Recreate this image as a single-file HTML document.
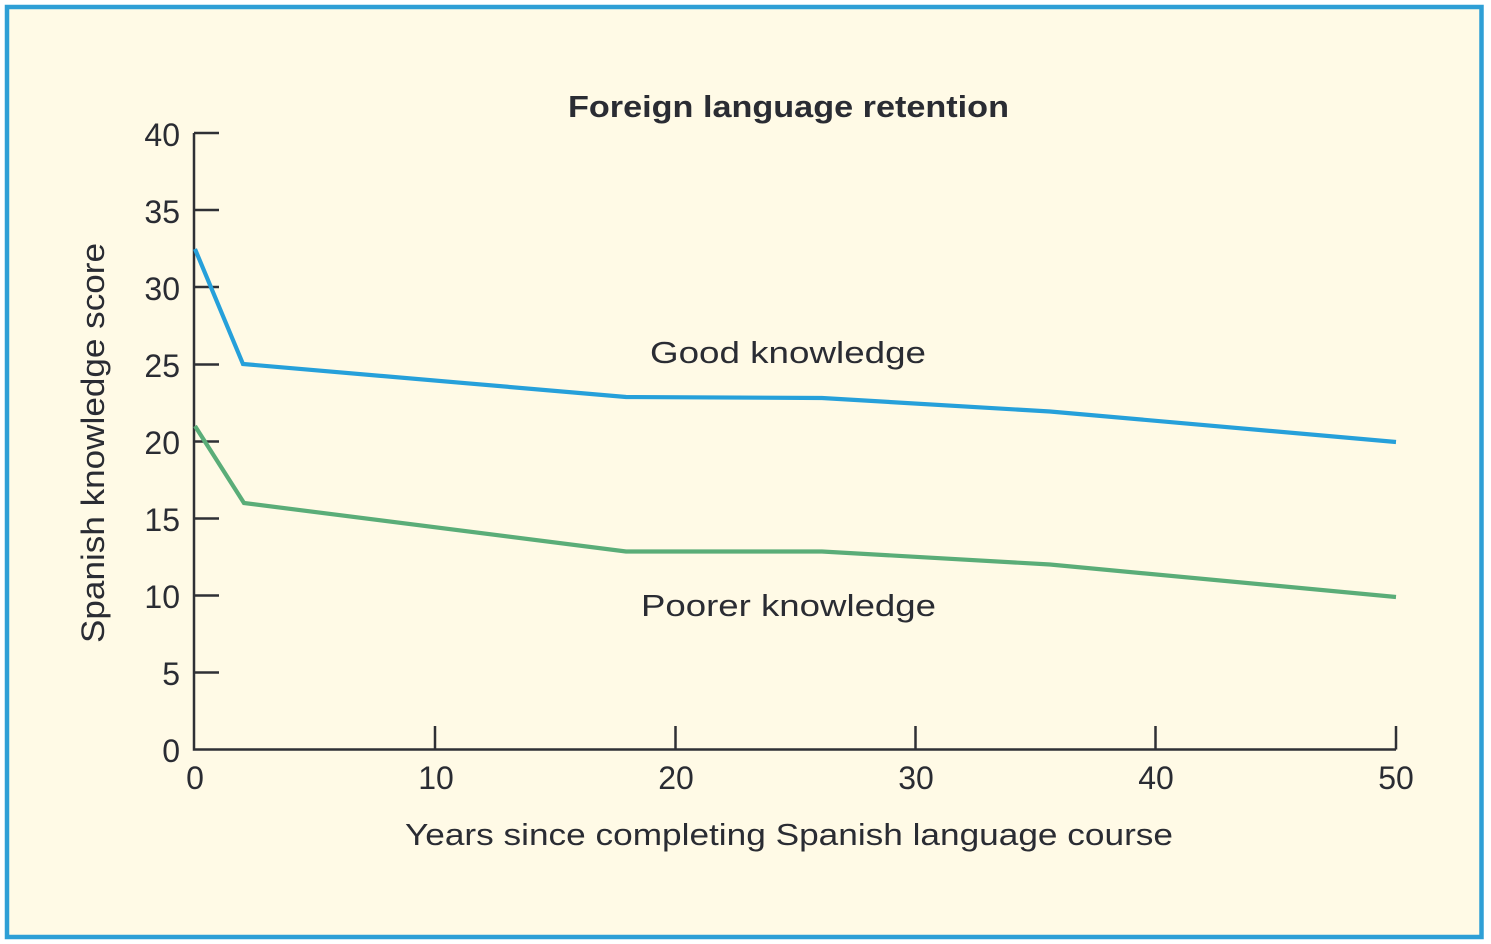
<!DOCTYPE html>
<html>
<head>
<meta charset="utf-8">
<style>
  html, body { margin:0; padding:0; background:#ffffff; }
  svg { display:block; }
  text { font-family: "Liberation Sans", "DejaVu Sans", sans-serif; fill:#2a2c33; }
</style>
</head>
<body>
<svg width="1491" height="944" viewBox="0 0 1491 944" xmlns="http://www.w3.org/2000/svg">
  <rect x="0" y="0" width="1491" height="944" fill="#ffffff"/>
  <rect x="7" y="7" width="1474.5" height="930" fill="#fffae6" stroke="#2e9fd6" stroke-width="4.5"/>

  <!-- Title -->
  <text x="568" y="117" font-size="31" font-weight="bold" textLength="441" lengthAdjust="spacingAndGlyphs">Foreign language retention</text>

  <!-- Axes -->
  <g stroke="#2f3035" stroke-width="2.5" fill="none">
    <polyline points="194,133 194,749.5 1396,749.5"/>
    <line x1="194" y1="133" x2="219" y2="133"/>
    <line x1="194" y1="210" x2="219" y2="210"/>
    <line x1="194" y1="287" x2="219" y2="287"/>
    <line x1="194" y1="364.5" x2="219" y2="364.5"/>
    <line x1="194" y1="441.5" x2="219" y2="441.5"/>
    <line x1="194" y1="518.5" x2="219" y2="518.5"/>
    <line x1="194" y1="595.5" x2="219" y2="595.5"/>
    <line x1="194" y1="672.5" x2="219" y2="672.5"/>
    <line x1="435" y1="726" x2="435" y2="749.5"/>
    <line x1="675.5" y1="726" x2="675.5" y2="749.5"/>
    <line x1="915.5" y1="726" x2="915.5" y2="749.5"/>
    <line x1="1155.5" y1="726" x2="1155.5" y2="749.5"/>
    <line x1="1396" y1="726" x2="1396" y2="749.5"/>
  </g>

  <!-- y tick labels -->
  <g font-size="32" text-anchor="end">
    <text x="180" y="146">40</text>
    <text x="180" y="223">35</text>
    <text x="180" y="300">30</text>
    <text x="180" y="377">25</text>
    <text x="180" y="454">20</text>
    <text x="180" y="531">15</text>
    <text x="180" y="608">10</text>
    <text x="180" y="685">5</text>
    <text x="180" y="762">0</text>
  </g>

  <!-- x tick labels -->
  <g font-size="32" text-anchor="middle">
    <text x="195" y="789">0</text>
    <text x="436" y="789">10</text>
    <text x="676" y="789">20</text>
    <text x="916" y="789">30</text>
    <text x="1156" y="789">40</text>
    <text x="1396" y="789">50</text>
  </g>

  <!-- axis titles -->
  <text x="405" y="845" font-size="31" textLength="768" lengthAdjust="spacingAndGlyphs">Years since completing Spanish language course</text>
  <text transform="translate(104,643) rotate(-90)" x="0" y="0" font-size="32" textLength="400" lengthAdjust="spacingAndGlyphs">Spanish knowledge score</text>

  <!-- Series -->
  <polyline fill="none" stroke="#26a0da" stroke-width="4.2" stroke-linejoin="miter"
    points="195,249 243,364 626,397 822,398 1050,411.5 1396,442"/>
  <polyline fill="none" stroke="#5aad78" stroke-width="4.2" stroke-linejoin="miter"
    points="195,426 244,503 626,551.5 822,551.5 1050,564.5 1396,597"/>

  <!-- Series labels -->
  <text x="650" y="363" font-size="31" textLength="276" lengthAdjust="spacingAndGlyphs">Good knowledge</text>
  <text x="641" y="616" font-size="31" textLength="295" lengthAdjust="spacingAndGlyphs">Poorer knowledge</text>
</svg>
</body>
</html>
